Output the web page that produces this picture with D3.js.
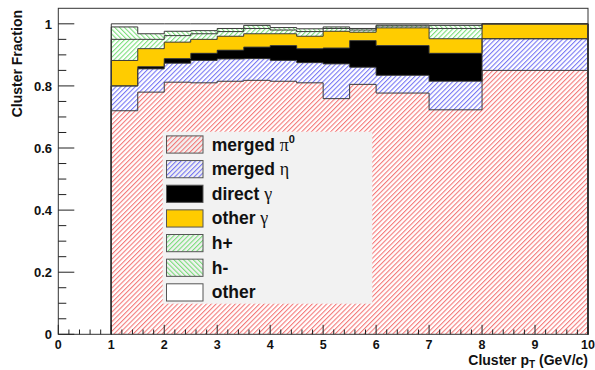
<!DOCTYPE html>
<html>
<head>
<meta charset="utf-8">
<script src="https://cdn.jsdelivr.net/npm/d3@7"></script>
<style>
  html, body { margin: 0; padding: 0; background: #fff; }
  svg { display: block; font-family: "Liberation Sans", Arial, Helvetica, sans-serif; }
</style>
</head>
<body>
<svg id="chart" width="595" height="370"></svg>
<script>
// Bin edges in cluster pT (GeV/c)
const binEdges = [1, 1.5, 2, 2.5, 3, 3.5, 4, 4.5, 5, 5.5, 6, 7, 8, 10];

// Fraction of clusters per source, one value per bin
const mergedPi0   = [0.720, 0.780, 0.812, 0.810, 0.815, 0.818, 0.815, 0.810, 0.759, 0.805, 0.777, 0.723, 0.850];
const mergedEta   = [0.080, 0.075, 0.061, 0.072, 0.072, 0.070, 0.067, 0.065, 0.112, 0.055, 0.057, 0.092, 0.102];
const directGamma = [0.000, 0.007, 0.015, 0.023, 0.028, 0.037, 0.048, 0.045, 0.051, 0.086, 0.096, 0.090, 0.000];
const otherGamma  = [0.082, 0.058, 0.053, 0.045, 0.045, 0.043, 0.038, 0.040, 0.054, 0.027, 0.057, 0.047, 0.048];
const hPlus       = [0.068, 0.030, 0.021, 0.018, 0.015, 0.017, 0.012, 0.015, 0.009, 0.007, 0.006, 0.033, 0.000];
const hMinus      = [0.040, 0.018, 0.014, 0.010, 0.010, 0.010, 0.008, 0.009, 0.005, 0.005, 0.003, 0.010, 0.000];
const otherSource = [0.010, 0.032, 0.024, 0.022, 0.015, 0.005, 0.012, 0.016, 0.010, 0.015, 0.004, 0.005, 0.000];

// Stack order, bottom to top
const seriesKeys = ["pi0", "eta", "dirg", "othg", "hp", "hm", "oth"];
const seriesValues = [mergedPi0, mergedEta, directGamma, otherGamma, hPlus, hMinus, otherSource];

// Legend labels: [plain text, greek symbol, superscript]
const legendLabels = [
  ["merged ", "\u03C0", "0"],
  ["merged ", "\u03B7", ""],
  ["direct ", "\u03B3", ""],
  ["other ", "\u03B3", ""],
  ["h+", "", ""],
  ["h-", "", ""],
  ["other", "", ""]
];

const xTicks = [0, 1, 2, 3, 4, 5, 6, 7, 8, 9, 10];
const yTicks = [0, 0.2, 0.4, 0.6, 0.8, 1];
const xTitle = ["Cluster p", "T", " (GeV/c)"];
const yTitle = "Cluster Fraction";

const svg = d3.select("#chart");
const frame = { left: 58.3, right: 588, top: 8.3, bottom: 334.3 };

const x = d3.scaleLinear().domain([0, 10]).range([frame.left, frame.right]);
const y = d3.scaleLinear().domain([0, 1.05]).range([frame.bottom, frame.top]);

// Fill styles
const defs = svg.append("defs");
function hatch(id, color, angle) {
  const p = defs.append("pattern")
    .attr("id", id)
    .attr("patternUnits", "userSpaceOnUse")
    .attr("width", 3.4).attr("height", 10)
    .attr("patternTransform", `rotate(${angle})`);
  p.append("rect").attr("width", 3.4).attr("height", 10).attr("fill", "none");
  p.append("line").attr("x1", 0.6).attr("y1", 0).attr("x2", 0.6).attr("y2", 10)
    .attr("stroke", color).attr("stroke-width", 0.9);
}
hatch("hRed", "#f25c5c", 45);
hatch("hBlue", "#5a5af2", 45);
hatch("hGreenP", "#5fd85f", 45);
hatch("hGreenM", "#5fd85f", -45);

const fills = {
  pi0: "url(#hRed)", eta: "url(#hBlue)", dirg: "#000000", othg: "#ffcc00",
  hp: "url(#hGreenP)", hm: "url(#hGreenM)", oth: "#ffffff"
};

// Build table for d3.stack
const table = binEdges.slice(0, -1).map((lo, i) => {
  const row = { lo: lo, hi: binEdges[i + 1] };
  seriesKeys.forEach((k, j) => { row[k] = seriesValues[j][i]; });
  return row;
});
const stacked = d3.stack().keys(seriesKeys)(table);

// Filled bands
const gBands = svg.append("g");
stacked.forEach(layer => {
  gBands.selectAll(null).data(layer).enter().append("rect")
    .attr("x", d => x(d.data.lo))
    .attr("width", d => x(d.data.hi) - x(d.data.lo))
    .attr("y", d => y(d[1]))
    .attr("height", d => Math.max(0, y(d[0]) - y(d[1])))
    .attr("fill", fills[layer.key])
    .attr("shape-rendering", "crispEdges");
});

// Histogram outlines (step lines at each cumulative level)
const stepLine = d3.line().x(d => x(d[0])).y(d => y(d[1])).curve(d3.curveStepAfter);
const gOut = svg.append("g").attr("fill", "none").attr("stroke", "#3a3a3a").attr("stroke-width", 1);
stacked.forEach(layer => {
  const pts = layer.map(d => [d.data.lo, d[1]]);
  pts.push([10, layer[layer.length - 1][1]]);
  const full = [[binEdges[0], 0]].concat(pts).concat([[10, 0]]);
  gOut.append("path").attr("d", stepLine(full));
});

// Frame
svg.append("rect")
  .attr("x", frame.left).attr("y", frame.top)
  .attr("width", frame.right - frame.left).attr("height", frame.bottom - frame.top)
  .attr("fill", "none").attr("stroke", "#333").attr("stroke-width", 1);

// Ticks (drawn inside the frame)
const gTicks = svg.append("g").attr("stroke", "#222").attr("stroke-width", 1);
d3.range(0, 10.001, 0.2).forEach(v => {
  const major = Math.abs(v - Math.round(v)) < 1e-6;
  gTicks.append("line")
    .attr("x1", x(v)).attr("x2", x(v))
    .attr("y1", frame.bottom).attr("y2", frame.bottom - (major ? 9.5 : 4.8));
});
d3.range(0, 1.001, 0.05).forEach(v => {
  const major = Math.abs(v * 5 - Math.round(v * 5)) < 1e-6;
  gTicks.append("line")
    .attr("y1", y(v)).attr("y2", y(v))
    .attr("x1", frame.left).attr("x2", frame.left + (major ? 16 : 8));
});

// Tick labels
svg.append("g").selectAll("text").data(xTicks).enter().append("text")
  .attr("x", d => x(d)).attr("y", 348.5)
  .attr("text-anchor", "middle")
  .attr("font-size", 12.5).attr("font-weight", "bold").attr("fill", "#111")
  .text(d => d);
svg.append("g").selectAll("text").data(yTicks).enter().append("text")
  .attr("x", 52).attr("y", d => y(d)).attr("dy", "0.36em")
  .attr("text-anchor", "end")
  .attr("font-size", 13).attr("font-weight", "bold").attr("fill", "#111")
  .text(d => d);

// Axis titles
const xt = svg.append("text")
  .attr("x", frame.right).attr("y", 364.5)
  .attr("text-anchor", "end")
  .attr("font-size", 14).attr("font-weight", "bold").attr("fill", "#111");
xt.append("tspan").text(xTitle[0]);
xt.append("tspan").attr("font-size", 10).attr("dy", 3.5).text(xTitle[1]);
xt.append("tspan").attr("dy", -3.5).text(xTitle[2]);

svg.append("text")
  .attr("transform", `translate(21.5, 10) rotate(-90)`)
  .attr("text-anchor", "end")
  .attr("font-size", 14).attr("font-weight", "bold").attr("fill", "#111")
  .text(yTitle);

// Legend
const lg = svg.append("g");
lg.append("rect")
  .attr("x", 162.7).attr("y", 131.7).attr("width", 209.6).attr("height", 172)
  .attr("fill", "#f2f2f2");
const legendY = i => 144.5 + i * 24.65;
seriesKeys.forEach((k, i) => {
  lg.append("rect")
    .attr("x", 166.5).attr("y", legendY(i) - 8.6)
    .attr("width", 36.5).attr("height", 17.2)
    .attr("fill", k === "oth" ? "#ffffff" : fills[k])
    .attr("stroke", "#555").attr("stroke-width", 1);
  const t = lg.append("text")
    .attr("x", 211.7).attr("y", legendY(i) + 6)
    .attr("font-size", 17.5).attr("font-weight", "bold").attr("fill", "#111");
  const [plain, greek, sup] = legendLabels[i];
  t.append("tspan").text(plain);
  if (greek) {
    t.append("tspan")
      .attr("font-family", "'Liberation Serif', 'DejaVu Serif', serif")
      .attr("font-weight", "normal").attr("font-size", 18)
      .text(greek);
  }
  if (sup) {
    t.append("tspan").attr("font-size", 11).attr("dy", -8).text(sup);
  }
});
</script>
</body>
</html>
